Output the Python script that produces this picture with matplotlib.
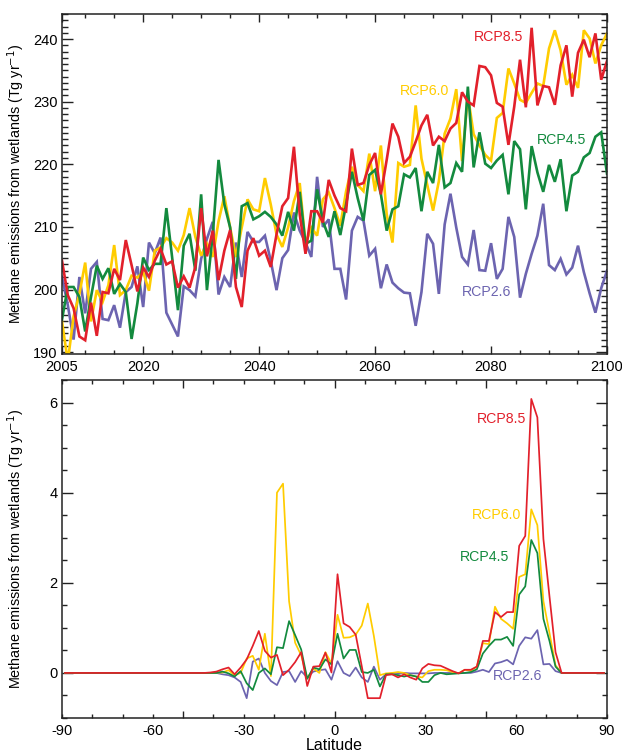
import matplotlib
matplotlib.use("Agg")
import matplotlib.pyplot as plt
from matplotlib.ticker import FixedLocator, MultipleLocator, FuncFormatter

plt.rcParams['font.family'] = ['Liberation Sans', 'DejaVu Sans']

# ---- Time series of global wetland methane emissions (Tg/yr) ----
years = list(range(2006, 2101))

rcp85 = [204.6, 199.1, 197.0, 192.5, 191.9, 197.9, 192.6, 199.6, 199.4, 203.3,
         201.5, 207.9, 203.9, 199.7, 203.5, 202.0, 204.6, 206.5, 204.0, 204.5,
         200.3, 202.1, 200.3, 203.6, 213.0, 205.3, 209.4, 201.5, 206.2, 209.5,
         200.4, 197.2, 206.2, 208.2, 205.4, 206.2, 203.6, 208.8, 213.3, 214.6,
         222.8, 212.0, 205.7, 212.5, 212.5, 210.7, 217.5, 215.0, 213.0, 212.5,
         222.5, 216.7, 217.0, 219.9, 221.8, 215.2, 220.7, 226.5, 224.4, 220.2,
         221.2, 223.6, 226.2, 227.9, 223.0, 224.4, 223.7, 225.7, 226.6, 231.5,
         230.0, 229.4, 235.7, 235.5, 234.2, 229.8, 229.2, 223.1, 229.2, 236.7,
         229.1, 241.8, 229.4, 232.5, 232.3, 229.5, 235.8, 239.0, 230.8, 237.8,
         239.9, 237.1, 240.9, 233.5, 236.5]

rcp60 = [194.9, 188.5, 195.7, 199.3, 204.3, 194.9, 199.9, 198.0, 200.7, 207.1,
         199.1, 199.9, 202.2, 201.9, 202.8, 199.8, 206.2, 206.7, 208.2, 207.5,
         206.2, 208.7, 213.0, 208.4, 205.4, 207.3, 205.2, 210.9, 214.9, 209.9,
         205.2, 209.9, 214.4, 212.8, 212.5, 217.8, 213.6, 208.8, 206.8, 209.9,
         214.1, 217.0, 207.3, 209.9, 208.6, 214.4, 215.5, 213.0, 210.2, 215.7,
         219.6, 216.7, 215.7, 221.7, 215.7, 223.0, 212.0, 207.5, 220.2, 219.6,
         219.9, 229.4, 220.9, 216.7, 212.6, 217.3, 224.9, 227.3, 232.0, 220.5,
         231.0, 224.8, 223.0, 221.5, 220.6, 227.4, 228.2, 235.3, 232.9, 230.3,
         229.8, 231.4, 232.9, 232.5, 238.5, 241.4, 238.2, 232.7, 234.3, 232.2,
         241.4, 240.1, 236.1, 239.0, 240.9]

rcp45 = [195.2, 200.4, 200.4, 198.8, 193.3, 198.8, 203.8, 201.7, 203.4, 199.3,
         200.9, 199.6, 192.1, 197.8, 205.1, 203.1, 204.1, 204.1, 213.0, 205.1,
         196.7, 207.0, 208.9, 203.0, 215.2, 199.9, 208.8, 220.7, 213.6, 209.9,
         201.7, 213.3, 213.8, 211.2, 211.7, 212.4, 211.6, 210.4, 208.6, 212.4,
         209.4, 215.6, 207.3, 207.8, 216.0, 210.9, 208.4, 212.5, 208.7, 213.6,
         218.8, 214.6, 211.0, 218.3, 219.1, 215.2, 209.4, 212.8, 213.3, 218.4,
         217.9, 219.4, 212.5, 218.8, 217.0, 223.1, 216.3, 217.0, 220.2, 218.8,
         232.4, 219.5, 225.1, 220.1, 219.4, 220.6, 221.5, 215.2, 223.7, 222.4,
         212.8, 222.9, 218.7, 215.6, 219.9, 217.2, 220.8, 212.5, 218.2, 218.8,
         221.1, 221.8, 224.4, 225.1, 218.5]

rcp26 = [202.0, 197.5, 192.0, 202.0, 196.2, 203.3, 204.4, 195.3, 195.1, 197.5,
         193.9, 199.6, 200.4, 203.7, 197.2, 207.5, 205.8, 208.3, 196.3, 194.4,
         192.5, 200.5, 199.9, 198.9, 204.9, 208.1, 210.8, 199.2, 202.0, 200.4,
         207.5, 202.0, 209.2, 207.6, 207.6, 208.6, 204.6, 199.9, 205.0, 206.3,
         212.3, 209.4, 207.5, 205.2, 218.0, 210.0, 211.2, 203.3, 203.3, 198.4,
         209.4, 211.6, 211.0, 205.4, 206.5, 200.2, 204.0, 201.1, 200.2, 199.5,
         199.4, 194.2, 199.6, 208.9, 207.3, 199.3, 210.4, 215.3, 209.9, 205.2,
         204.0, 209.5, 203.1, 203.0, 207.4, 201.7, 203.3, 211.6, 208.4, 198.7,
         202.5, 205.7, 208.6, 213.7, 203.9, 203.1, 204.9, 202.4, 203.5, 207.0,
         202.8, 199.4, 196.3, 200.2, 203.0]

year_ticks = [2006, 2020, 2040, 2060, 2080, 2100]
year_tick_labels = ['2005', '2020', '2040', '2060', '2080', '2100']

# ---- Zonal change in wetland methane emissions (Tg/yr) by latitude ----
lats = list(range(-89, 90, 2))
z23 = [0.0] * 23   # -89 .. -45
z8 = [0.0] * 8     # 75 .. 89

lat85 = z23 + [0.0, 0.01, 0.03, 0.08, 0.12, -0.03, 0.12, 0.30, 0.60, 0.93,
               0.49, 0.34, 0.40, -0.05, 0.07, 0.24, 0.46, -0.29, 0.14, 0.15,
               0.45, 0.01, 2.19, 1.10, 1.02, 0.85, 0.15, -0.56, -0.56, -0.56,
               -0.05, -0.03, -0.10, -0.03, -0.10, -0.15, 0.10, 0.20, 0.17, 0.16,
               0.10, 0.04, -0.01, 0.07, 0.07, 0.14, 0.71, 0.71, 1.35, 1.24,
               1.35, 1.35, 2.82, 3.04, 6.08, 5.67, 2.97, 1.70, 0.46] + z8

lat60 = z23 + [0.0, 0.0, 0.01, 0.01, 0.06, -0.05, 0.0, 0.32, 0.38, 0.07,
               0.87, -0.07, 4.00, 4.20, 1.59, 0.67, 0.39, -0.12, 0.10, 0.0,
               0.46, 0.21, 1.29, 0.78, 0.79, 0.85, 1.05, 1.54, 0.82, -0.05,
               -0.01, 0.0, 0.02, 0.0, -0.05, -0.08, -0.10, 0.04, 0.07, 0.07,
               0.06, 0.02, -0.01, 0.07, 0.05, 0.14, 0.66, 0.64, 1.47, 1.20,
               1.10, 0.98, 2.13, 2.19, 3.63, 3.28, 1.59, 0.89, 0.17] + z8

lat45 = z23 + [0.0, 0.0, 0.0, 0.03, -0.01, -0.08, 0.04, -0.23, -0.38, 0.0,
               0.10, -0.03, 0.57, 0.55, 1.15, 0.84, 0.52, -0.13, 0.12, 0.08,
               0.30, 0.19, 0.87, 0.32, 0.51, 0.51, 0.02, 0.0, 0.07, -0.30,
               -0.03, -0.03, -0.05, -0.08, -0.05, -0.08, -0.20, -0.20, -0.05, 0.0,
               -0.03, -0.02, -0.01, 0.0, 0.02, 0.08, 0.43, 0.60, 0.74, 0.74,
               0.80, 0.60, 1.74, 1.92, 2.95, 2.66, 1.20, 0.71, 0.14] + z8

lat26 = z23 + [0.0, 0.0, 0.0, -0.03, -0.05, -0.10, -0.20, -0.56, 0.25, 0.32,
               0.0, -0.18, -0.27, 0.02, 0.04, -0.20, 0.04, -0.10, 0.03, 0.06,
               0.08, -0.15, 0.26, 0.0, -0.07, 0.12, -0.10, -0.20, 0.14, -0.15,
               -0.03, -0.01, -0.02, 0.0, -0.01, -0.01, -0.01, -0.01, 0.0, 0.0,
               0.0, 0.0, 0.0, 0.0, 0.0, 0.03, 0.07, 0.02, 0.21, 0.24,
               0.29, 0.19, 0.60, 0.79, 0.76, 0.95, 0.19, 0.20, 0.04] + z8

lat_ticks = list(range(-90, 91, 10))

scenarios = ['RCP2.6', 'RCP6.0', 'RCP4.5', 'RCP8.5']
colors = {'RCP8.5': '#E2202B', 'RCP6.0': '#FFCC00',
          'RCP4.5': '#138A3E', 'RCP2.6': '#6C64B0'}
series_time = {'RCP8.5': rcp85, 'RCP6.0': rcp60, 'RCP4.5': rcp45, 'RCP2.6': rcp26}
series_lat = {'RCP8.5': lat85, 'RCP6.0': lat60, 'RCP4.5': lat45, 'RCP2.6': lat26}

W, H = 622, 753
fig = plt.figure(figsize=(W / 100, H / 100), dpi=100)

ylabel = 'Methane emissions from wetlands (Tg yr$^{-1}$)'
spine_color = '#222222'

# ---------------- top panel ----------------
ax1 = fig.add_axes([62 / W, 1 - 354 / H, 545 / W, 340 / H])
for name in scenarios:
    ax1.plot(years, series_time[name], color=colors[name], lw=1.9,
             solid_joinstyle='miter')
ax1.set_xlim(2006, 2100)
ax1.set_ylim(189.7, 244)
ax1.xaxis.set_major_locator(FixedLocator(year_ticks))
ax1.set_xticklabels(year_tick_labels)
ax1.xaxis.set_minor_locator(FixedLocator(list(range(2010, 2100, 5))))
ax1.yaxis.set_major_locator(MultipleLocator(10))
ax1.yaxis.set_minor_locator(MultipleLocator(1))
ax1.tick_params(axis='x', which='major', direction='in', length=5.5, width=1,
                top=True, bottom=True, labelsize=10.5, pad=4.5, color=spine_color)
ax1.tick_params(axis='x', which='minor', direction='in', length=3, width=1,
                top=True, bottom=True, color=spine_color)
ax1.tick_params(axis='y', which='major', direction='in', length=8, width=1,
                left=True, right=True, labelsize=10.5, pad=3, color=spine_color)
ax1.tick_params(axis='y', which='minor', direction='in', length=4, width=1,
                left=True, right=True, color=spine_color)
ax1.set_ylabel(ylabel, fontsize=10.4)
ax1.yaxis.set_label_coords(-0.064, 0.5)

label_pos_time = {'RCP8.5': (2081.3, 240.3), 'RCP6.0': (2068.6, 231.7),
                  'RCP4.5': (2092.2, 223.8), 'RCP2.6': (2079.3, 199.6)}
for name, (x, y) in label_pos_time.items():
    ax1.text(x, y, name, color=colors[name], fontsize=10.2,
             ha='center', va='center')

# ---------------- bottom panel ----------------
ax2 = fig.add_axes([62 / W, 1 - 718 / H, 545 / W, 338 / H])
for name in scenarios:
    ax2.plot(lats, series_lat[name], color=colors[name], lw=1.25)
ax2.set_xlim(-90, 90)
ax2.set_ylim(-1, 6.5)
ax2.yaxis.set_major_locator(MultipleLocator(2))
ax2.yaxis.set_minor_locator(MultipleLocator(0.5))
ax2.xaxis.set_major_locator(FixedLocator(lat_ticks))
ax2.xaxis.set_major_formatter(FuncFormatter(
    lambda v, pos: f'{int(round(v))}' if int(round(v)) % 30 == 0 else ''))
ax2.tick_params(axis='x', which='major', direction='in', length=3, width=1,
                top=True, bottom=True, labelsize=10.5, pad=4, color=spine_color)
ax2.tick_params(axis='y', which='major', direction='in', length=7.7, width=1,
                left=True, right=True, labelsize=10.5, pad=3, color=spine_color)
ax2.tick_params(axis='y', which='minor', direction='in', length=3.8, width=1,
                left=True, right=True, color=spine_color)
ax2.set_ylabel(ylabel, fontsize=10.4)
ax2.yaxis.set_label_coords(-0.064, 0.5)
ax2.set_xlabel('Latitude', fontsize=11.5, labelpad=0)

# longer ticks every 50 degrees
for loc, tick in zip(lat_ticks, ax2.xaxis.get_major_ticks()):
    if loc in (-50, 0, 50):
        tick.tick1line.set_markersize(5.4)
        tick.tick2line.set_markersize(5.4)

label_pos_lat = {'RCP8.5': (55.2, 5.64), 'RCP6.0': (53.6, 3.50),
                 'RCP4.5': (49.6, 2.58), 'RCP2.6': (60.5, -0.07)}
for name, (x, y) in label_pos_lat.items():
    ax2.text(x, y, name, color=colors[name], fontsize=10.2,
             ha='center', va='center')

for ax in (ax1, ax2):
    for sp in ax.spines.values():
        sp.set_linewidth(1.1)
        sp.set_color(spine_color)

fig.savefig('out.png', dpi=100)
